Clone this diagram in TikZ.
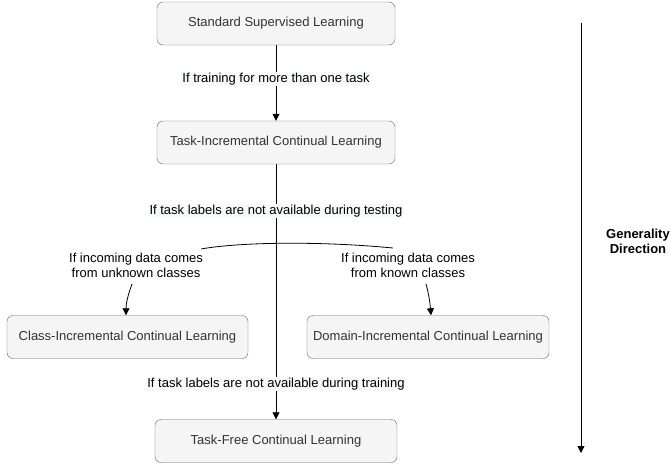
\documentclass[tikz,border=0pt]{standalone}
\usepackage{fontspec}
\setmainfont{Liberation Sans}
\usetikzlibrary{arrows.meta}
\definecolor{boxfill}{HTML}{F5F5F5}
\definecolor{boxdraw}{HTML}{666666}
\definecolor{lblbg}{HTML}{F8F9FA}
\tikzset{
  box/.style={draw=boxdraw, fill=boxfill, rounded corners=6pt, minimum height=43pt, inner sep=0pt, font=\fontsize{13}{15}\selectfont, text=black!80},
  lbl/.style={fill=lblbg, inner sep=1pt, font=\fontsize{13}{15}\selectfont, align=center},
  plain/.style={inner sep=1pt, font=\fontsize{13}{15}\selectfont, align=center},
  conn/.style={draw=black, line width=0.8pt, -{Triangle[width=7pt,length=7pt]}},
  line/.style={draw=black, line width=0.8pt}
}
\begin{document}
\begin{tikzpicture}[x=1pt,y=-1pt]
\useasboundingbox (0,0) rectangle (671,463);
\node[box, minimum width=238pt] (ssl) at (276,23.5) {Standard Supervised Learning};
\node[box, minimum width=238pt] (ti) at (276,142.5) {Task-Incremental Continual Learning};
\node[box, minimum width=241pt] (ci) at (127.5,337) {Class-Incremental Continual Learning};
\node[box, minimum width=242pt] (di) at (428,337) {Domain-Incremental Continual Learning};
\node[box, minimum width=242pt] (tf) at (276,441) {Task-Free Continual Learning};

% top edge
\draw[conn] (ssl) -- (ti) node[pos=0.45, lbl] (l1) {If training for more than one task};

% main vertical line
\draw[conn] (ti.south) -- (tf.north);
\node[lbl] (l2) at (276,211) {If task labels are not available during testing};
\node[lbl] (l3) at (276,384) {If task labels are not available during training};

% branch curve
\coordinate (cl) at (201,249);
\coordinate (cr) at (393,248);
\draw[line] (cl) .. controls (240,242) and (320,241) .. (cr);

\node[plain] (lb) at (136,265) {If incoming data comes\\from unknown classes};
\node[plain] (rb) at (408,265) {If incoming data comes\\from known classes};
\coordinate (lbs) at (132,284);
\coordinate (rbs) at (426,284);
\draw[conn] (lbs) .. controls (128,295) and (126,303) .. (ci.north -| 126,0);
\draw[conn] (rbs) .. controls (429,295) and (430,303) .. (di.north -| 431,0);

% generality direction
\coordinate (gt) at (581,23);
\coordinate (gb) at (581,453);
\draw[conn] (gt) -- (gb);
\node[plain, font=\fontsize{13}{15}\selectfont\bfseries] (gd) at (638,241) {Generality\\Direction};
\end{tikzpicture}
\end{document}
